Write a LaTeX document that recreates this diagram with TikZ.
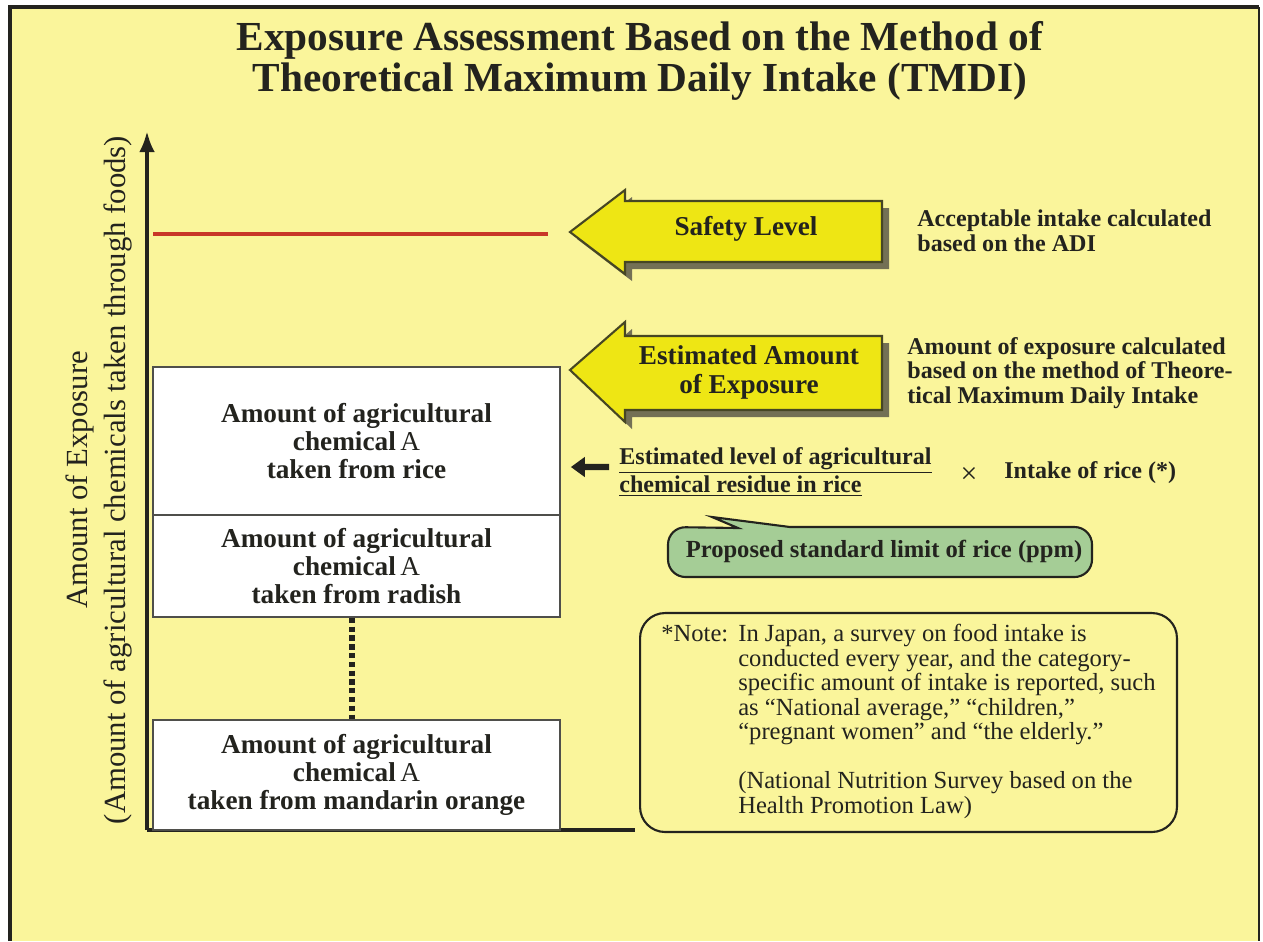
\documentclass[tikz,border=0pt]{standalone}
\usepackage{fontspec}
\setmainfont{Liberation Serif}
\usetikzlibrary{arrows.meta}

\definecolor{bgyellow}{RGB}{250,245,155}
\definecolor{arrowyellow}{RGB}{238,230,20}
\definecolor{olive}{RGB}{70,70,35}
\definecolor{shade}{RGB}{115,112,85}
\definecolor{ink}{RGB}{35,35,30}
\definecolor{safetyred}{RGB}{200,55,40}
\definecolor{limitgreen}{RGB}{165,205,150}

\tikzset{
  title/.style     = {align=center, text=ink,
                      font=\bfseries\fontsize{23.5}{23}\selectfont},
  axislabel/.style = {align=center, text=ink, rotate=90,
                      font=\fontsize{17.5}{21.5}\selectfont},
  axisline/.style  = {draw=ink, line width=2.3pt},
  chembox/.style   = {draw=ink!80, line width=1pt, fill=white,
                      minimum width=8.14cm, align=center, inner sep=0pt,
                      text=ink, font=\bfseries\fontsize{15.5}{15.9}\selectfont},
  yarrow/.style    = {draw=olive, line width=1.2pt, fill=arrowyellow},
  yshadow/.style   = {fill=shade},
  arrowtext/.style = {align=center, text=ink,
                      font=\bfseries\fontsize{15.5}{16.5}\selectfont},
  sidetext/.style  = {align=left, anchor=west, inner sep=0pt, text=ink,
                      font=\bfseries\fontsize{13.7}{14}\selectfont},
  callout/.style   = {draw=ink, line width=1.2pt, fill=limitgreen},
  notebox/.style   = {draw=ink, line width=1.2pt, rounded corners=0.5cm,
                      minimum width=10.74cm, minimum height=4.38cm,
                      text=ink, font=\fontsize{14}{13.9}\selectfont},
  dotline/.style   = {draw=ink, line width=3.2pt, dash pattern=on 3pt off 2pt}
}

\begin{document}
\begin{tikzpicture}[x=0.02cm, y=-0.02cm]
\useasboundingbox (0,0) rectangle (1263,941);
% page
\fill[white] (0,0) rectangle (1263,941);
\fill[bgyellow] (10,8) rectangle (1260,941);
\draw[ink, line width=2.3pt] (10,941) -- (10,7) -- (1259,7);
\draw[ink, line width=1pt] (1259,7) -- (1259,941);

\node[title] (head) at (640,61)
  {Exposure Assessment Based on the Method of\\
   Theoretical Maximum Daily Intake (TMDI)};

% axes
\coordinate (origin) at (147,830);
\coordinate (ytop)   at (147,131);
\coordinate (xend)   at (635,830);
\draw[axisline, -{Latex[length=12pt,width=9pt]}] (origin) -- (ytop);
\draw[axisline] (origin) -- (xend);
\node[axislabel] (ylabel) at (99,480)
  {Amount of Exposure\\
   (Amount of agricultural chemicals taken through foods)};

% safety level
\coordinate (redl) at (153,234);
\coordinate (redr) at (548,234);
\draw[safetyred, line width=2.8pt] (redl) -- (redr);
\fill[yshadow] (577,239) -- (632,197) -- (632,208) -- (889,208)
  -- (889,269) -- (632,269) -- (632,281) -- cycle;
\draw[yarrow] (570,232) -- (625,190) -- (625,201) -- (882,201)
  -- (882,262) -- (625,262) -- (625,274) -- cycle;
\node[arrowtext] (safety) at (746,229) {Safety Level};
\node[sidetext] (adi) at (917,231)
  {Acceptable intake calculated\\based on the ADI};

% estimated exposure
\fill[yshadow] (577,377) -- (632,329) -- (632,343) -- (889,343)
  -- (889,417) -- (632,417) -- (632,429) -- cycle;
\draw[yarrow] (570,370) -- (625,322) -- (625,336) -- (882,336)
  -- (882,410) -- (625,410) -- (625,422) -- cycle;
\node[arrowtext] (estimate) at (749,372) {Estimated Amount\\of Exposure};
\node[sidetext] (tmdi) at (907,373)
  {Amount of exposure calculated\\
   based on the method of Theore-\\
   tical Maximum Daily Intake};

% chemical boxes
\node[chembox, minimum height=2.96cm] (rice) at (356.5,441)
  {Amount of agricultural\\chemical{\mdseries\,A}\\taken from rice};
\node[chembox, minimum height=2.04cm] (radish) at (356.5,566)
  {Amount of agricultural\\chemical{\mdseries\,A}\\taken from radish};
\node[chembox, minimum height=2.2cm] (mandarin) at (356.5,775)
  {Amount of agricultural\\chemical{\mdseries\,A}\\taken from mandarin orange};
\draw[dotline] ([xshift=-0.09cm]radish.south) -- ([xshift=-0.09cm]mandarin.north);

% residue x intake
\node[sidetext] (residue) at (619,472)
  {\underline{Estimated level of agricultural}\\
   \underline{chemical residue in rice}};
\draw[ink, line width=3.6pt, -{Triangle[length=8pt,width=11pt]}]
  ([xshift=-0.2cm,yshift=0.1cm]residue.west) -- ([xshift=0.2cm]rice.east |- 0,467);
\node[text=ink, font=\fontsize{17}{17}\selectfont] (times) at (969,475) {×};
\node[sidetext] (intake) at (1004,473) {Intake of rice (*)};

% standard limit callout
\draw[callout] (738,528) -- (712,517) -- (790,527) [rounded corners=0.35cm]
  -- (1092,527) -- (1092,577) -- (668,577) -- (668,527) [sharp corners] -- cycle;
\node[font=\bfseries\fontsize{14}{14}\selectfont, text=ink] (stdlimit) at (884,551)
  {Proposed standard limit of rice (ppm)};

% note
\node[notebox] (note) at (908.5,722.5)
  {\begin{tabular}{@{}l@{\hspace{0.2cm}}l@{}}
   *Note: & In Japan, a survey on food intake is\\
          & conducted every year, and the category-\\
          & specific amount of intake is reported, such\\
          & as “National average,” “children,”\\
          & “pregnant women” and “the elderly.”\\[13.9pt]
          & (National Nutrition Survey based on the\\
          & Health Promotion Law)
   \end{tabular}};
\end{tikzpicture}
\end{document}
